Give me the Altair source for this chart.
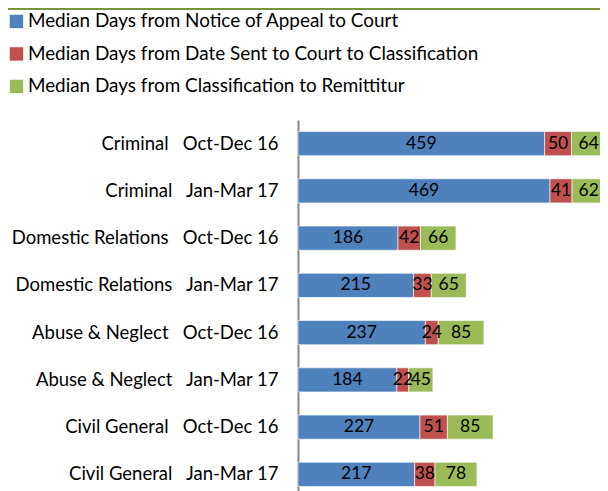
import altair as alt
import pandas as pd

NB = "\u00a0"
GAP = NB + NB + " "
categories = [
    "Criminal" + GAP + "Oct-Dec 16",
    "Criminal" + GAP + "Jan-Mar 17",
    "Domestic Relations" + GAP + "Oct-Dec 16",
    "Domestic Relations" + GAP + "Jan-Mar 17",
    "Abuse & Neglect" + GAP + "Oct-Dec 16",
    "Abuse & Neglect" + GAP + "Jan-Mar 17",
    "Civil General" + GAP + "Oct-Dec 16",
    "Civil General" + GAP + "Jan-Mar 17",
]
series = [
    "Median Days from Notice of Appeal to Court",
    "Median Days from Date Sent to Court to Classification",
    "Median Days from Classification to Remittitur",
]
notice_to_court = [459, 469, 186, 215, 237, 184, 227, 217]
sent_to_classification = [50, 41, 42, 33, 24, 22, 51, 38]
classification_to_remittitur = [64, 62, 66, 65, 85, 45, 85, 78]
colors = ["#4F81BD", "#C0504D", "#9BBB59"]

rows = []
for i, c in enumerate(categories):
    for k, vals in enumerate([notice_to_court, sent_to_classification, classification_to_remittitur]):
        rows.append({"cat": c, "series": series[k], "order": k, "value": vals[i]})
df = pd.DataFrame(rows)

FONT = "Lato"

base = alt.Chart(df).transform_stack(
    stack="value", groupby=["cat"], as_=["v0", "v1"], sort=[alt.SortField("order")]
).transform_calculate(mid="(datum.v0 + datum.v1) / 2")

yscale = alt.Scale(domain=categories, range=[0, 378], paddingInner=0.49, paddingOuter=0.245)
yenc = alt.Y(
    "cat:N",
    sort=categories,
    scale=yscale,
    axis=alt.Axis(
        title=None, ticks=False, labelFont=FONT, labelFontSize=18.5, labelColor="black",
        labelPadding=20, domainColor="#868686", domainWidth=2, labelLimit=0, grid=False,
    ),
)
xscale = alt.Scale(domain=[0, 562], nice=False, zero=True)

bars = base.mark_bar(stroke="white", strokeWidth=0.6).encode(
    y=yenc,
    x=alt.X("v0:Q", scale=xscale, axis=None),
    x2="v1:Q",
    color=alt.Color(
        "series:N",
        sort=series,
        scale=alt.Scale(domain=series, range=colors),
        legend=alt.Legend(
            title=None, orient="none", legendX=-291, legendY=-108, direction="vertical",
            symbolType="square", symbolSize=180, symbolStrokeWidth=0, symbolOpacity=1,
            labelFont=FONT, labelFontSize=18.9, labelColor="black", labelLimit=0,
            rowPadding=12.5, labelOffset=2,
        ),
    ),
)

texts = base.mark_text(font=FONT, fontSize=17.5, color="black", baseline="middle", align="center").encode(
    y=alt.Y("cat:N", sort=categories, scale=yscale),
    x=alt.X("mid:Q", scale=xscale),
    text="value:Q",
)

topline = alt.Chart(pd.DataFrame({"a": [0]})).mark_rule(color="#77933C", strokeWidth=2).encode(
    x=alt.value(-290), x2=alt.value(302), y=alt.value(-111)
)

chart = alt.layer(bars, texts, topline).properties(
    width=302, height=371,
    padding={"left": 290, "top": 112, "right": 0, "bottom": 0},
    autosize="none",
).configure_view(stroke=None)

chart.save("out.html", embed_options={"renderer": "svg", "actions": False})
